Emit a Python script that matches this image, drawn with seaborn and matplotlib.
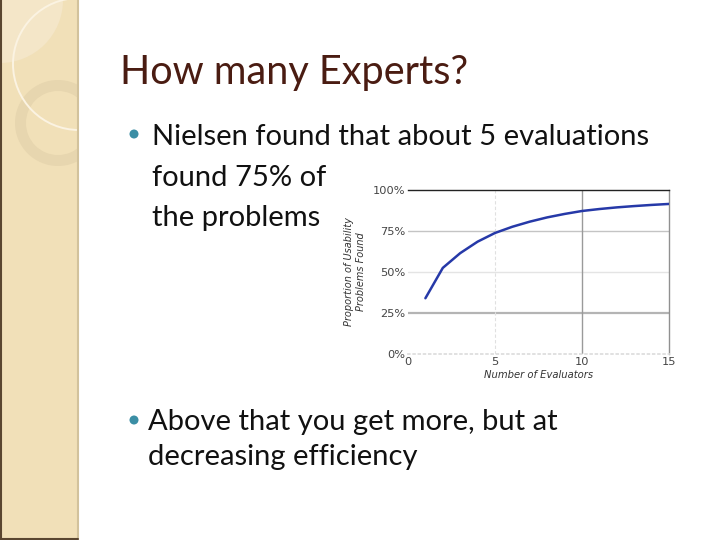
import numpy as np
import pandas as pd
import matplotlib
matplotlib.use("Agg")
import matplotlib.pyplot as plt
import matplotlib.patches as mpatches
import seaborn as sns

# Data (Nielsen curve)
evaluators = [1, 2, 3, 4, 5, 6, 7, 8, 9, 10, 11, 12, 13, 14, 15]
pct_found = [34.0, 52.5, 61.5, 68.5, 73.8, 77.6, 80.7, 83.3, 85.4, 87.2, 88.4, 89.4, 90.2, 90.9, 91.5]
y_ticks = [0, 25, 50, 75, 100]
y_tick_labels = ["0%", "25%", "50%", "75%", "100%"]
x_ticks = [0, 5, 10, 15]

title = "How many Experts?"
bullet1 = ["Nielsen found that about 5 evaluations", "found 75% of", "the problems"]
bullet2 = ["Above that you get more, but at", "decreasing efficiency"]

sns.set_theme(style="white")
plt.rcParams['font.family'] = ['Lato', 'DejaVu Sans']

W, H = 720, 540
fig = plt.figure(figsize=(7.2, 5.4), dpi=100)
fig.patch.set_facecolor("white")

# background "slide" axes in pixel coordinates
bg = fig.add_axes([0, 0, 1, 1])
bg.set_xlim(0, W)
bg.set_ylim(H, 0)
bg.axis("off")

# left decorative panel
bg.add_patch(mpatches.Rectangle((0, 0), 78, H, facecolor="#f1e0b8", edgecolor="none"))
light = mpatches.Circle((0, 0), 63, facecolor="#f4e6c8", edgecolor="none")
bg.add_patch(light)
ring = mpatches.Annulus((58, 123), 43, 11, facecolor="#e6d5ae", edgecolor="none", alpha=0.9)
bg.add_patch(ring)
arc = mpatches.Circle((79, 64), 66, facecolor="none", edgecolor="#fbf3e2", lw=1.4)
bg.add_patch(arc)
clip = mpatches.Rectangle((0, 0), 78, H, transform=bg.transData)
for p in (light, ring, arc):
    p.set_clip_path(clip)
bg.plot([77.5, 77.5], [0, H], color="#d2c29c", lw=1.5)
bg.plot([0.5, 0.5], [0, H], color="#5a4630", lw=1.5)
bg.plot([0, 78], [539, 539], color="#5a4630", lw=1.5)

# title and bullet text
bg.text(120, 84, title, fontsize=28.5, color="#4a1c12", va="baseline", ha="left")
txt_kw = dict(fontsize=21, color="#111111", va="baseline", ha="left")
bg.text(152, 145, bullet1[0], **txt_kw)
bg.text(152, 186, bullet1[1], **txt_kw)
bg.text(152, 226, bullet1[2], **txt_kw)
bg.text(148, 430, bullet2[0], **txt_kw)
bg.text(148, 465, bullet2[1], **txt_kw)
for by in (134, 420):
    bg.add_patch(mpatches.Circle((134, by), 4.5, facecolor="#3b8ea5", edgecolor="none"))

# embedded chart
ax = fig.add_axes([408 / W, 1 - 354 / H, 261 / W, 164 / H])
df = pd.DataFrame({"Number of Evaluators": evaluators, "Found": pct_found})
ax.axhline(25, color="#b4b4b4", lw=1.6, zorder=1)
ax.axhline(50, color="#e4e4e4", lw=1.0, zorder=1)
ax.axhline(75, color="#c4c4c4", lw=1.0, zorder=1)
ax.axvline(5, color="#e0e0e0", lw=0.8, ls=(0, (3, 2)), zorder=1)
ax.axvline(10, color="#9a9a9a", lw=1.0, zorder=1)
sns.lineplot(data=df, x="Number of Evaluators", y="Found", ax=ax,
             color="#2639a8", lw=1.8, zorder=3)
ax.set_xlim(0, 15)
ax.set_ylim(0, 100)
ax.set_xticks(x_ticks)
ax.set_yticks(y_ticks)
ax.set_yticklabels(y_tick_labels)
ax.set_xticks(np.arange(0, 16, 1), minor=True)
ax.set_yticks(np.arange(0, 101, 5), minor=True)
ax.tick_params(axis="both", which="major", labelsize=8.2, length=0, pad=2)
ax.tick_params(axis="both", which="minor", length=2, width=0.6, colors="#cccccc")
ax.tick_params(axis="x", which="minor", direction="in")
for lbl in ax.get_xticklabels() + ax.get_yticklabels():
    lbl.set_color("#444444")
    lbl.set_family(["DejaVu Sans"])
ax.set_xlabel("Number of Evaluators", fontsize=7.2, style="italic", color="#333333",
              family=["DejaVu Sans"], labelpad=2)
ax.set_ylabel("Proportion of Usability\nProblems Found", fontsize=7, style="italic",
              color="#333333", family=["DejaVu Sans"], labelpad=5)
ax.spines["top"].set_color("#222222")
ax.spines["top"].set_linewidth(1.0)
ax.spines["right"].set_color("#909090")
ax.spines["right"].set_linewidth(1.0)
ax.spines["left"].set_visible(False)
ax.spines["bottom"].set_color("#dddddd")
ax.spines["bottom"].set_linestyle((0, (1, 2)))
ax.set_facecolor("white")

fig.savefig("out.png", dpi=100)
